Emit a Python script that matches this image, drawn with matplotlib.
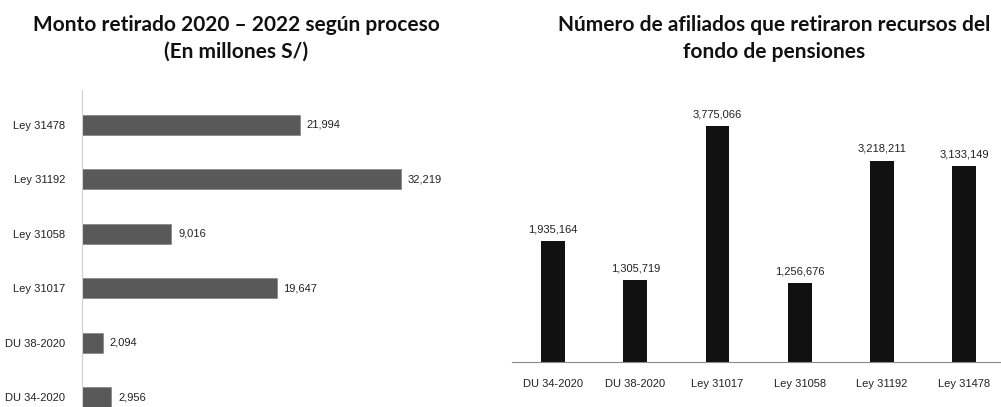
import matplotlib
matplotlib.use("Agg")
import matplotlib.pyplot as plt

# left chart: monto retirado (millones S/)
monto_cats = ["DU 34-2020", "DU 38-2020", "Ley 31017", "Ley 31058", "Ley 31192", "Ley 31478"]
monto_vals = [2956, 2094, 19647, 9016, 32219, 21994]

# right chart: numero de afiliados
afil_cats = ["DU 34-2020", "DU 38-2020", "Ley 31017", "Ley 31058", "Ley 31192", "Ley 31478"]
afil_vals = [1935164, 1305719, 3775066, 1256676, 3218211, 3133149]

W, H = 1001, 407
fig = plt.figure(figsize=(W / 100, H / 100), dpi=100)

def box(x0, y0, x1, y1):
    # pixel box -> figure fraction
    return [x0 / W, 1 - y1 / H, (x1 - x0) / W, (y1 - y0) / H]

tick_font = dict(family="Liberation Sans", size=8, color="#222222")

# ---- left: horizontal bars
ax1 = fig.add_axes(box(82, 90, 478, 407))
y = range(len(monto_cats))
ax1.barh(y, monto_vals, height=0.37, color="#595959", edgecolor="#7a7a7a", linewidth=0.4)
ax1.set_xlim(0, 40000)
ax1.set_ylim(-0.18, 5.64)
ax1.set_yticks(list(y))
ax1.set_yticklabels(monto_cats, **tick_font)
ax1.tick_params(axis="y", length=0, pad=12)
ax1.set_xticks([])
for s in ["top", "right", "bottom"]:
    ax1.spines[s].set_visible(False)
ax1.spines["left"].set_color("#d0d0d0")
ax1.spines["left"].set_linewidth(0.8)
for i, v in enumerate(monto_vals):
    ax1.text(v + 700, i, f"{v:,}", va="center", ha="left", **tick_font)

# ---- right: vertical bars
ax2 = fig.add_axes(box(512, 90, 1001, 362))
x = range(len(afil_cats))
ax2.bar(x, afil_vals, width=0.29, color="#111111")
ax2.set_xlim(-0.5, 5.45)
ax2.set_ylim(0, 4.35e6)
ax2.set_xticks(list(x))
ax2.set_xticklabels(afil_cats, **tick_font)
ax2.tick_params(axis="x", length=0, pad=12)
ax2.set_yticks([])
for s in ["top", "right", "left"]:
    ax2.spines[s].set_visible(False)
ax2.spines["bottom"].set_color("#8a8a8a")
ax2.spines["bottom"].set_linestyle((0, (1, 1)))
ax2.spines["bottom"].set_linewidth(0.8)
for i, v in enumerate(afil_vals):
    ax2.text(i, v + 110000, f"{v:,}", va="bottom", ha="center", **tick_font)

# titles
title_font = dict(family="Lato", weight="bold", size=15, color="#111111", ha="center", va="center")
fig.text(236 / W, 1 - 25 / H, "Monto retirado 2020 \u2013 2022 según proceso", **title_font)
fig.text(236 / W, 1 - 52 / H, "(En millones S/)", **title_font)
fig.text(774 / W, 1 - 25 / H, "Número de afiliados que retiraron recursos del", **title_font)
fig.text(774 / W, 1 - 52 / H, "fondo de pensiones", **title_font)

fig.savefig("out.png", dpi=100, facecolor="white")
